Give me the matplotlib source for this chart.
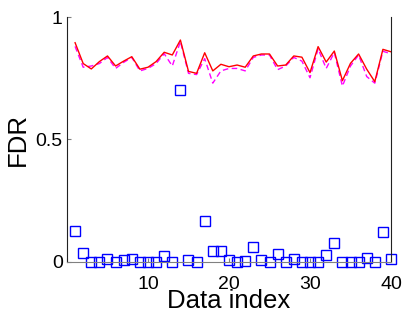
import numpy as np
import matplotlib.pyplot as plt

plt.rcParams['font.family'] = ['Liberation Sans', 'DejaVu Sans']

# data index 1..40
idx = np.arange(1, 41)

# red solid curve
fdr_solid = [0.895, 0.81, 0.788, 0.818, 0.841, 0.80, 0.82, 0.838, 0.787, 0.795,
             0.818, 0.856, 0.845, 0.906, 0.778, 0.77, 0.854, 0.78, 0.807, 0.797,
             0.804, 0.795, 0.841, 0.849, 0.849, 0.80, 0.804, 0.841, 0.836, 0.773,
             0.879, 0.816, 0.861, 0.74, 0.811, 0.849, 0.787, 0.736, 0.868, 0.858]

# magenta dashed curve
fdr_dashed = [0.88, 0.795, 0.80, 0.81, 0.835, 0.79, 0.815, 0.835, 0.78, 0.79,
              0.81, 0.85, 0.80, 0.90, 0.77, 0.765, 0.83, 0.73, 0.78, 0.79,
              0.79, 0.78, 0.835, 0.845, 0.845, 0.785, 0.80, 0.835, 0.82, 0.752,
              0.87, 0.79, 0.855, 0.718, 0.80, 0.845, 0.757, 0.73, 0.86, 0.85]

# blue squares
fdr_squares = [0.127, 0.037, 0.0, 0.0, 0.012, 0.0, 0.008, 0.012, 0.0, 0.0,
               0.0, 0.025, 0.0, 0.70, 0.008, 0.0, 0.167, 0.045, 0.045, 0.008,
               0.0, 0.005, 0.06, 0.008, 0.0, 0.033, 0.0, 0.012, 0.0, 0.0,
               0.0, 0.03, 0.078, 0.0, 0.0, 0.0, 0.015, 0.0, 0.122, 0.012]

x_ticks = [0, 10, 20, 30, 40]
x_ticklabels = ['', '10', '20', '30', '40']
y_ticks = [0, 0.5, 1]
y_ticklabels = ['0', '0.5', '1']

fig = plt.figure(figsize=(4.07, 3.16), dpi=100)
ax = fig.add_axes([0.1646, 0.1709, 0.7961, 0.7753])

ax.plot(idx, fdr_dashed, '--', color='#ff00ff', lw=1, dashes=(4, 2.5))
ax.plot(idx, fdr_solid, '-', color='#ff0000', lw=1)
ax.plot(idx, fdr_squares, 's', mfc='none', mec='#0000ff', ms=7.5, mew=1,
        linestyle='none', clip_on=False)

ax.set_xlim(0, 40)
ax.set_ylim(0, 1)
ax.set_xticks(x_ticks)
ax.set_xticklabels(x_ticklabels)
ax.set_yticks(y_ticks)
ax.set_yticklabels(y_ticklabels)
ax.tick_params(direction='in', length=3, labelsize=14, colors='#808080',
               labelcolor='black')
ax.tick_params(axis='x', pad=10)
ax.tick_params(axis='y', pad=3)

ax.spines['top'].set_visible(False)
ax.spines['bottom'].set_color('#808080')
ax.spines['left'].set_color('#222222')
ax.spines['right'].set_color('#222222')

ax.set_xlabel('Data index', fontsize=18.5, labelpad=-3)
ax.set_ylabel('FDR', fontsize=18.5, labelpad=4)

fig.savefig('out.png', dpi=100)
